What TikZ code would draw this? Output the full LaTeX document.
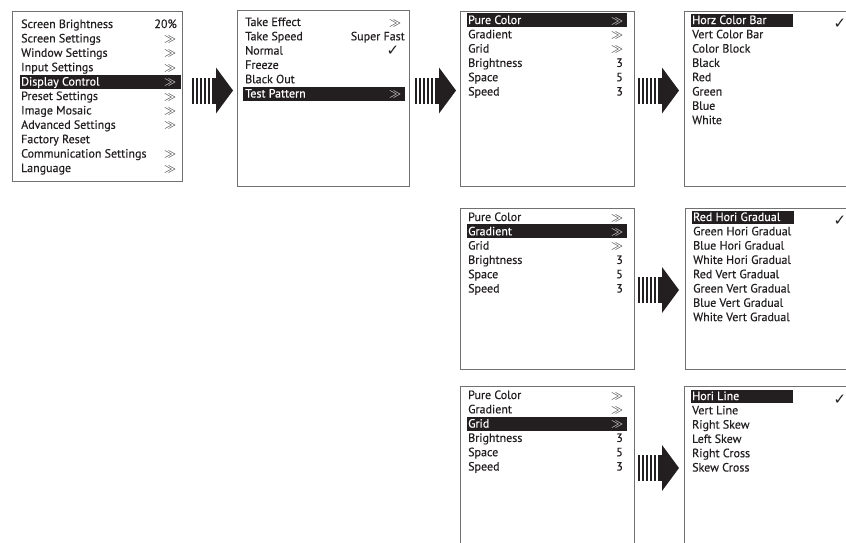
\documentclass[tikz,border=0pt]{standalone}
\usepackage{fontspec}
\setmainfont[FakeBold=0.4]{PT Sans}
\newfontfamily\symfont{DejaVu Sans}
\definecolor{ink}{HTML}{231F20}
\definecolor{rim}{HTML}{707070}

\begin{document}
\begin{tikzpicture}[x=1pt, y=-1pt,
    frame/.style={draw=rim, line width=1pt},
    item/.style={anchor=base west, inner sep=0pt, font=\fontsize{12}{14}\selectfont},
    val/.style={item, anchor=base east},
    more/.style={item, anchor=base, font=\fontsize{12}{12}\selectfont},
    ok/.style={item, anchor=base, font=\fontsize{15}{15}\selectfont\symfont},
    pics/fwd/.style={code={
      \foreach \k in {0,...,4}
        \fill[ink] (\k*4,-13) rectangle ++(2.4,26);
      \fill[ink] (20,-13) rectangle (25,13);
      \fill[ink] (24,-23) -- (41,0) -- (24,23) -- cycle;
    }}]
  \useasboundingbox (0,0) rectangle (846,542);
  \clip (0,0) rectangle (846,542);

  % main menu
  \draw[frame] (12,11) rectangle (182,181);
  \fill[ink] (20,74.5) rectangle (181,88.5);
  \foreach \t/\c [count=\i] in {Screen Brightness/ink, Screen Settings/ink,
      Window Settings/ink, Input Settings/ink, Display Control/white,
      Preset Settings/ink, Image Mosaic/ink, Advanced Settings/ink,
      Factory Reset/ink, Communication Settings/ink, Language/ink}
    \node[item, text=\c] (main-\i) at (21,{28+(\i-1)*14.4}) {\t};
  \node[val, text=ink] (main-v1) at (177,28) {20\%};
  \foreach \i in {2,3,4,5,6,7,8,10,11} {
    \ifnum\i=5 \def\c{white}\else\def\c{ink}\fi
    \node[more, text=\c] (main-m\i) at (170,{28+(\i-1)*14.4}) {$\gg$};
  }

  % display control
  \pic at (192,90.5) {fwd};
  \draw[frame] (237,10) rectangle (409,186);
  \fill[ink] (243,86.5) rectangle (405,100.5);
  \foreach \t/\c [count=\i] in {Take Effect/ink, Take Speed/ink, Normal/ink,
      Freeze/ink, Black Out/ink, Test Pattern/white}
    \node[item, text=\c] (disp-\i) at (245,{26+(\i-1)*14.3}) {\t};
  \node[more, text=ink] (disp-m1) at (395,26) {$\gg$};
  \node[val, text=ink] (disp-v2) at (405,40.3) {Super Fast};
  \node[ok, text=ink] (disp-v3) at (393,55.6) {✓};
  \node[more, text=white] (disp-m6) at (395,97.5) {$\gg$};

  % test pattern, one screen for each selected line
  \pic at (415,90.5) {fwd};
  \foreach \top/\s/\bot in {11/1/186, 208/2/369, 386/3/560} {
    \draw[frame] (460,\top) rectangle (634,\bot);
    \fill[ink] (467,{\top+2+(\s-1)*14.3}) rectangle (627,{\top+16+(\s-1)*14.3});
    \foreach \t [count=\i] in {Pure Color, Gradient, Grid, Brightness, Space, Speed} {
      \ifnum\i=\s \def\c{white}\else\def\c{ink}\fi
      \node[item, text=\c] (pat\s-\i) at (468,{\top+13+(\i-1)*14.3}) {\t};
    }
    \foreach \i in {1,2,3} {
      \ifnum\i=\s \def\c{white}\else\def\c{ink}\fi
      \node[more, text=\c] (pat\s-m\i) at (617,{\top+13+(\i-1)*14.3}) {$\gg$};
    }
    \foreach \v [count=\i from 4] in {3,5,3}
      \node[val, text=ink] (pat\s-v\i) at (623,{\top+13+(\i-1)*14.3}) {\v};
  }

  % pure color
  \pic at (638,90.5) {fwd};
  \draw[frame] (684,11) rectangle (870,186);
  \fill[ink] (691,13.5) rectangle (793,27);
  \foreach \t/\c [count=\i] in {Horz Color Bar/white, Vert Color Bar/ink,
      Color Block/ink, Black/ink, Red/ink, Green/ink, Blue/ink, White/ink}
    \node[item, text=\c] (pure-\i) at (692,{24+(\i-1)*14.3}) {\t};
  \node[ok, text=ink] (pure-ok) at (840,28) {✓};

  % gradient
  \pic at (638,290) {fwd};
  \draw[frame] (685,208) rectangle (870,369);
  \fill[ink] (692,210.5) rectangle (794,224);
  \foreach \t/\c [count=\i] in {Red Hori Gradual/white, Green Hori Gradual/ink,
      Blue Hori Gradual/ink, White Hori Gradual/ink, Red Vert Gradual/ink,
      Green Vert Gradual/ink, Blue Vert Gradual/ink, White Vert Gradual/ink}
    \node[item, text=\c] (grad-\i) at (693,{221+(\i-1)*14.3}) {\t};
  \node[ok, text=ink] (grad-ok) at (840,225) {✓};

  % grid
  \pic at (638,468) {fwd};
  \draw[frame] (684,386) rectangle (870,560);
  \fill[ink] (691,389.5) rectangle (793,403);
  \foreach \t/\c [count=\i] in {Hori Line/white, Vert Line/ink, Right Skew/ink,
      Left Skew/ink, Right Cross/ink, Skew Cross/ink}
    \node[item, text=\c] (grid-\i) at (692,{400+(\i-1)*14.3}) {\t};
  \node[ok, text=ink] (grid-ok) at (840,404) {✓};
\end{tikzpicture}
\end{document}
